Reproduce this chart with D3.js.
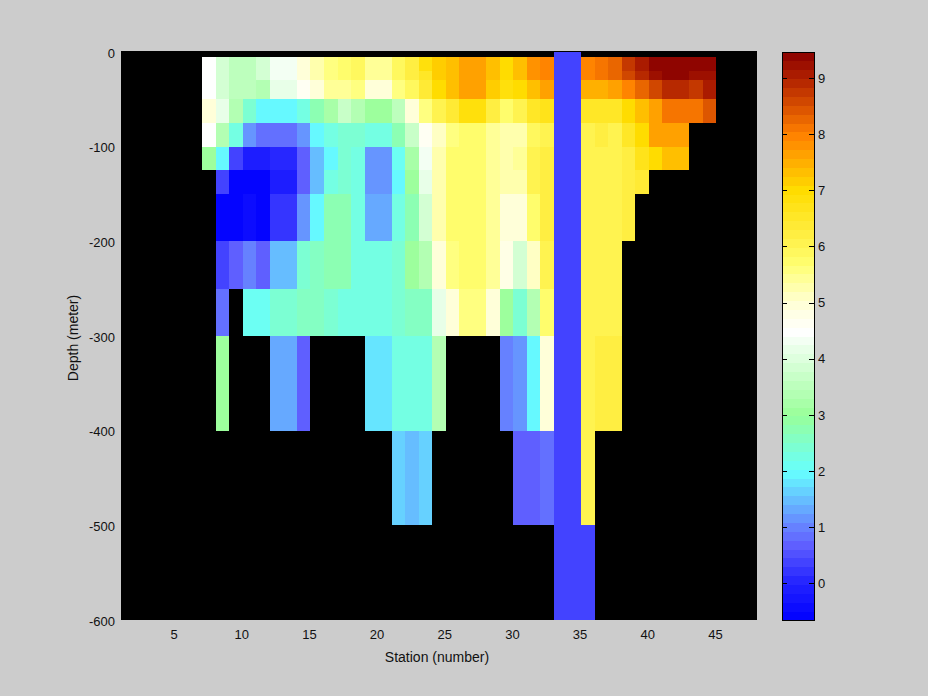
<!DOCTYPE html>
<html><head><meta charset="utf-8">
<script src="https://cdn.jsdelivr.net/npm/d3@7"></script>
<style>html,body{margin:0;padding:0;background:#ccc;overflow:hidden}svg{display:block}
text{font-family:"Liberation Sans",sans-serif;font-size:13px;fill:#111}</style>
</head><body><div id="chart"></div>
<script>
const N = null;
// Edges of the depth layers (m)
const depthEdges = [0,5,20,30,50,75,100,125,150,200,250,300,400,500,600];
const firstStation = 7;
const xTicks = [5,10,15,20,25,30,35,40,45];
const yTicks = [0,-100,-200,-300,-400,-500,-600];
const cbTicks = [0,1,2,3,4,5,6,7,8,9];
const colorStops  = [-0.65,0,0.7,1,2,3,4.5,5,5.7,6.2,7,8,9,9.46];
const colorValues = ["#0000ff","#2222ff","#6060ff","#6680ff","#66ffff","#99ff99","#ffffff","#ffffd5","#ffff70","#ffee44","#ffdd00","#ff8000","#b02000","#880000"];
const layer0  = [N,N,N,N,N,N,N,N,N,N,N,N,N,N,N,N,N,N,N,N,N,N,N,N,N,N,0.3,0.3,N,N,N,N,N,N,N,N,N,N];
const layer1  = [4.5,3.8,3.5,3.5,3.8,4.35,4.35,5.0,5.3,5.55,5.7,5.9,5.5,5.5,5.9,6.2,6.8,7.1,7.4,7.6,7.6,7.3,7.05,7.4,7.85,8.0,0.3,0.3,8.0,8.1,8.3,8.75,9.0,9.4,9.4,9.4,9.4,9.4];
const layer2  = [4.5,3.8,3.5,3.5,3.8,4.35,4.35,5.0,5.3,5.55,5.7,5.9,5.5,5.5,5.9,6.2,6.5,7.1,7.4,7.6,7.6,7.3,7.05,7.4,7.85,8.0,0.3,0.3,8.0,8.1,8.3,8.65,8.9,9.15,9.4,9.4,9.15,9.15];
const layer3  = [4.5,3.8,3.5,3.5,3.4,4.1,4.1,4.6,5.0,5.5,5.5,5.6,5.0,5.0,5.6,5.9,6.4,7.0,7.3,7.6,7.6,7.1,6.9,7.05,7.4,7.6,0.3,0.3,7.5,7.5,7.65,8.0,8.25,8.6,8.9,8.9,8.75,9.0];
const layer4  = [4.9,4.1,3.4,2.4,1.9,1.9,1.9,2.3,2.7,3.2,3.7,3.4,3.0,3.0,3.6,5.0,5.6,6.0,6.4,6.9,6.9,6.3,5.8,6.0,6.5,6.7,0.3,0.3,6.6,6.6,6.6,7.0,7.4,7.7,8.05,8.05,8.05,8.4];
const layer5  = [4.5,3.3,2.2,1.2,0.9,0.9,0.9,1.2,1.9,2.3,2.5,2.4,2.2,2.2,2.7,3.7,4.6,5.1,5.6,5.75,5.75,5.45,5.2,5.3,5.9,6.1,0.3,0.3,6.1,6.3,6.1,6.5,7.0,7.6,7.7,7.7,N,N];
const layer6  = [3.0,2.0,0.4,-0.05,-0.05,0.1,0.1,0.65,1.5,2.0,2.4,2.2,1.2,1.2,2.15,3.2,4.4,5.2,5.7,5.8,5.8,5.5,5.3,5.4,6.1,6.2,0.3,0.3,6.05,6.05,6.05,6.2,6.7,7.0,7.4,7.4,N,N];
const layer7  = [N,0.3,-0.55,-0.55,-0.55,-0.05,-0.05,0.75,1.5,2.3,2.4,2.3,1.2,1.2,2.0,3.0,4.1,5.2,5.7,5.8,5.8,5.5,5.2,5.2,6.0,6.3,0.3,0.3,6.05,6.05,6.05,6.2,6.4,N,N,N,N,N];
const layer8  = [N,-0.55,-0.55,-0.4,-0.55,0.25,0.25,1.2,2.0,2.7,2.8,2.3,1.4,1.4,2.2,2.8,3.9,5.2,5.7,5.8,5.8,5.45,5.0,4.9,5.8,6.3,0.3,0.3,6.05,6.05,6.05,6.3,N,N,N,N,N,N];
const layer9  = [N,0.3,0.65,1.05,0.75,1.5,1.5,2.4,2.6,2.8,2.8,2.35,2.2,2.2,2.5,3.0,3.4,4.9,5.55,5.75,5.75,5.4,4.8,3.9,5.1,6.1,0.3,0.3,6.0,6.0,6.0,N,N,N,N,N,N,N];
const layer10 = [N,0.9,N,2.1,2.1,2.4,2.4,2.6,2.6,2.5,2.2,2.2,2.25,2.25,2.4,2.65,2.65,4.1,4.95,5.55,5.55,5.0,3.0,2.45,3.4,5.75,0.3,0.3,6.0,6.0,6.0,N,N,N,N,N,N,N];
const layer11 = [N,3.0,N,N,N,1.4,1.4,0.65,N,N,N,N,1.85,1.85,2.2,2.2,2.35,3.4,N,N,N,N,0.95,1.2,1.9,5.0,0.3,0.3,6.0,6.2,6.2,N,N,N,N,N,N,N];
const layer12 = [N,N,N,N,N,N,N,N,N,N,N,N,N,N,1.6,1.55,1.6,N,N,N,N,N,N,0.7,0.7,0.85,0.3,0.3,6.1,N,N,N,N,N,N,N,N,N];
const layer13 = [N,N,N,N,N,N,N,N,N,N,N,N,N,N,N,N,N,N,N,N,N,N,N,N,N,N,0.3,0.3,0.3,N,N,N,N,N,N,N,N,N];
const layers = [layer0,layer1,layer2,layer3,layer4,layer5,layer6,layer7,layer8,layer9,layer10,layer11,layer12,layer13];

const W = 928, H = 696, nLevels = 64;
const svg = d3.select("#chart").append("svg").attr("width",W).attr("height",H);
svg.append("rect").attr("width",W).attr("height",H).attr("fill","#cccccc");

const x = d3.scaleLinear().domain([1,48]).range([121,757]);
const y = d3.scaleLinear().domain([-600,1]).range([620,51]);

const cbDomain = [colorStops[0],colorStops[colorStops.length-1]];
const ramp = d3.scaleLinear().domain(colorStops).range(colorValues).interpolate(d3.interpolateRgb);
const levelValues = d3.range(nLevels).map(i=>cbDomain[0]+(i+0.5)/nLevels*(cbDomain[1]-cbDomain[0]));
const color = d3.scaleQuantize().domain(cbDomain).range(levelValues.map(v=>ramp(v)));

// Main panel
svg.append("rect").attr("x",x(1)).attr("y",y(1)).attr("width",x(48)-x(1)).attr("height",y(-600)-y(1)).attr("fill","#000");
const cells = layers.flatMap((row,r)=>row.map((v,c)=>({v,s:firstStation+c,top:depthEdges[r],bottom:depthEdges[r+1]}))).filter(d=>d.v!==null);
svg.append("g").attr("shape-rendering","crispEdges").selectAll("rect").data(cells).join("rect")
  .attr("x",d=>x(d.s)).attr("width",d=>x(d.s+1)-x(d.s))
  .attr("y",d=>y(-d.top)).attr("height",d=>y(-d.bottom)-y(-d.top))
  .attr("fill",d=>color(d.v));

const ax = svg.append("g").attr("transform",`translate(0,${y(-600)})`)
  .call(d3.axisBottom(x).tickValues(xTicks).tickSize(0).tickPadding(10).tickFormat(d=>String(d)));
ax.select(".domain").remove();
ax.selectAll("text").attr("dx",-1.5);
const ay = svg.append("g").attr("transform",`translate(${x(1)},0)`)
  .call(d3.axisLeft(y).tickValues(yTicks).tickSize(0).tickPadding(6).tickFormat(d=>String(d)));
ay.select(".domain").remove();
ay.selectAll("text").attr("y",1);
svg.selectAll("g.tick text").attr("fill","#111");

// Colorbar
const cbL = 782, cbR = 814;
const cy = d3.scaleLinear().domain(cbDomain).range([620,52]);
const step = (cbDomain[1]-cbDomain[0])/nLevels;
svg.append("g").attr("shape-rendering","crispEdges").selectAll("rect").data(levelValues).join("rect")
  .attr("x",cbL).attr("width",cbR-cbL)
  .attr("y",v=>cy(v+step/2)).attr("height",v=>cy(v-step/2)-cy(v+step/2)+0.5)
  .attr("fill",v=>ramp(v));
svg.append("rect").attr("x",cbL).attr("y",cy(cbDomain[1])).attr("width",cbR-cbL).attr("height",cy(cbDomain[0])-cy(cbDomain[1]))
  .attr("fill","none").attr("stroke","#000").attr("shape-rendering","crispEdges");
const cbAxis = svg.append("g").attr("transform",`translate(${cbR},0)`)
  .call(d3.axisRight(cy).tickValues(cbTicks).tickSize(-5).tickPadding(9).tickFormat(d=>String(d)));
cbAxis.select(".domain").remove();
cbAxis.selectAll("line").attr("stroke","#000").attr("shape-rendering","crispEdges");
cbAxis.selectAll("text").attr("x",4);
svg.append("g").attr("transform",`translate(${cbL},0)`)
  .call(d3.axisRight(cy).tickValues(cbTicks).tickSize(5).tickFormat(""))
  .call(g=>g.select(".domain").remove())
  .selectAll("line").attr("stroke","#000").attr("shape-rendering","crispEdges");
svg.selectAll("g text").style("font-size","13px");

svg.append("text").attr("x",437).attr("y",662).attr("text-anchor","middle").style("font-size","14px").text("Station (number)");
svg.append("text").attr("transform","translate(78,338) rotate(-90)").attr("text-anchor","middle").style("font-size","14px").text("Depth (meter)");
</script></body></html>
